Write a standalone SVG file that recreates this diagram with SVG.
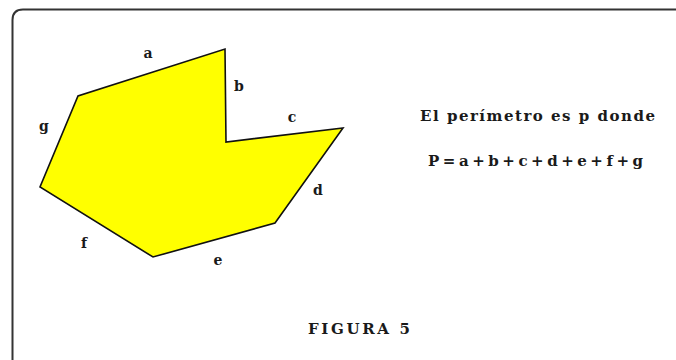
<svg xmlns="http://www.w3.org/2000/svg" width="676" height="360" viewBox="0 0 676 360">
<style>
  .lbl { font-family: "DejaVu Serif", "Liberation Serif", serif; font-weight: bold; font-size: 14px; fill: #1a1a1a; }
  .txt { font-family: "DejaVu Serif", "Liberation Serif", serif; font-weight: bold; font-size: 15px; fill: #1a1a1a; }
</style>
<rect width="676" height="360" fill="#ffffff"/>
<path d="M12.5 380 L12.5 20 Q12.5 9.5 23 9.5 L700 9.5" fill="none" stroke="#333" stroke-width="2"/>
<g id="polygon">
  <polygon points="225,49 226,142 343,128 275,223 153,257 40,187 78,96" fill="#ffff00" stroke="#111" stroke-width="1.6" stroke-linejoin="miter"/>
</g>
<g id="labels">
  <text class="lbl" x="148" y="58" text-anchor="middle">a</text>
  <text class="lbl" x="239" y="91" text-anchor="middle">b</text>
  <text class="lbl" x="292" y="122" text-anchor="middle">c</text>
  <text class="lbl" x="318" y="195" text-anchor="middle">d</text>
  <text class="lbl" x="218" y="265" text-anchor="middle">e</text>
  <text class="lbl" x="84" y="248" text-anchor="middle">f</text>
  <text class="lbl" x="44" y="131" text-anchor="middle">g</text>
</g>
<g id="text">
  <text class="txt" x="420" y="121" textLength="235" lengthAdjust="spacing">El perímetro es p donde</text>
  <text class="txt" x="428" y="166" textLength="215" lengthAdjust="spacing">P=a+b+c+d+e+f+g</text>
  <text class="txt" x="308" y="334" font-size="16" textLength="102" lengthAdjust="spacing">FIGURA 5</text>
</g>
</svg>
